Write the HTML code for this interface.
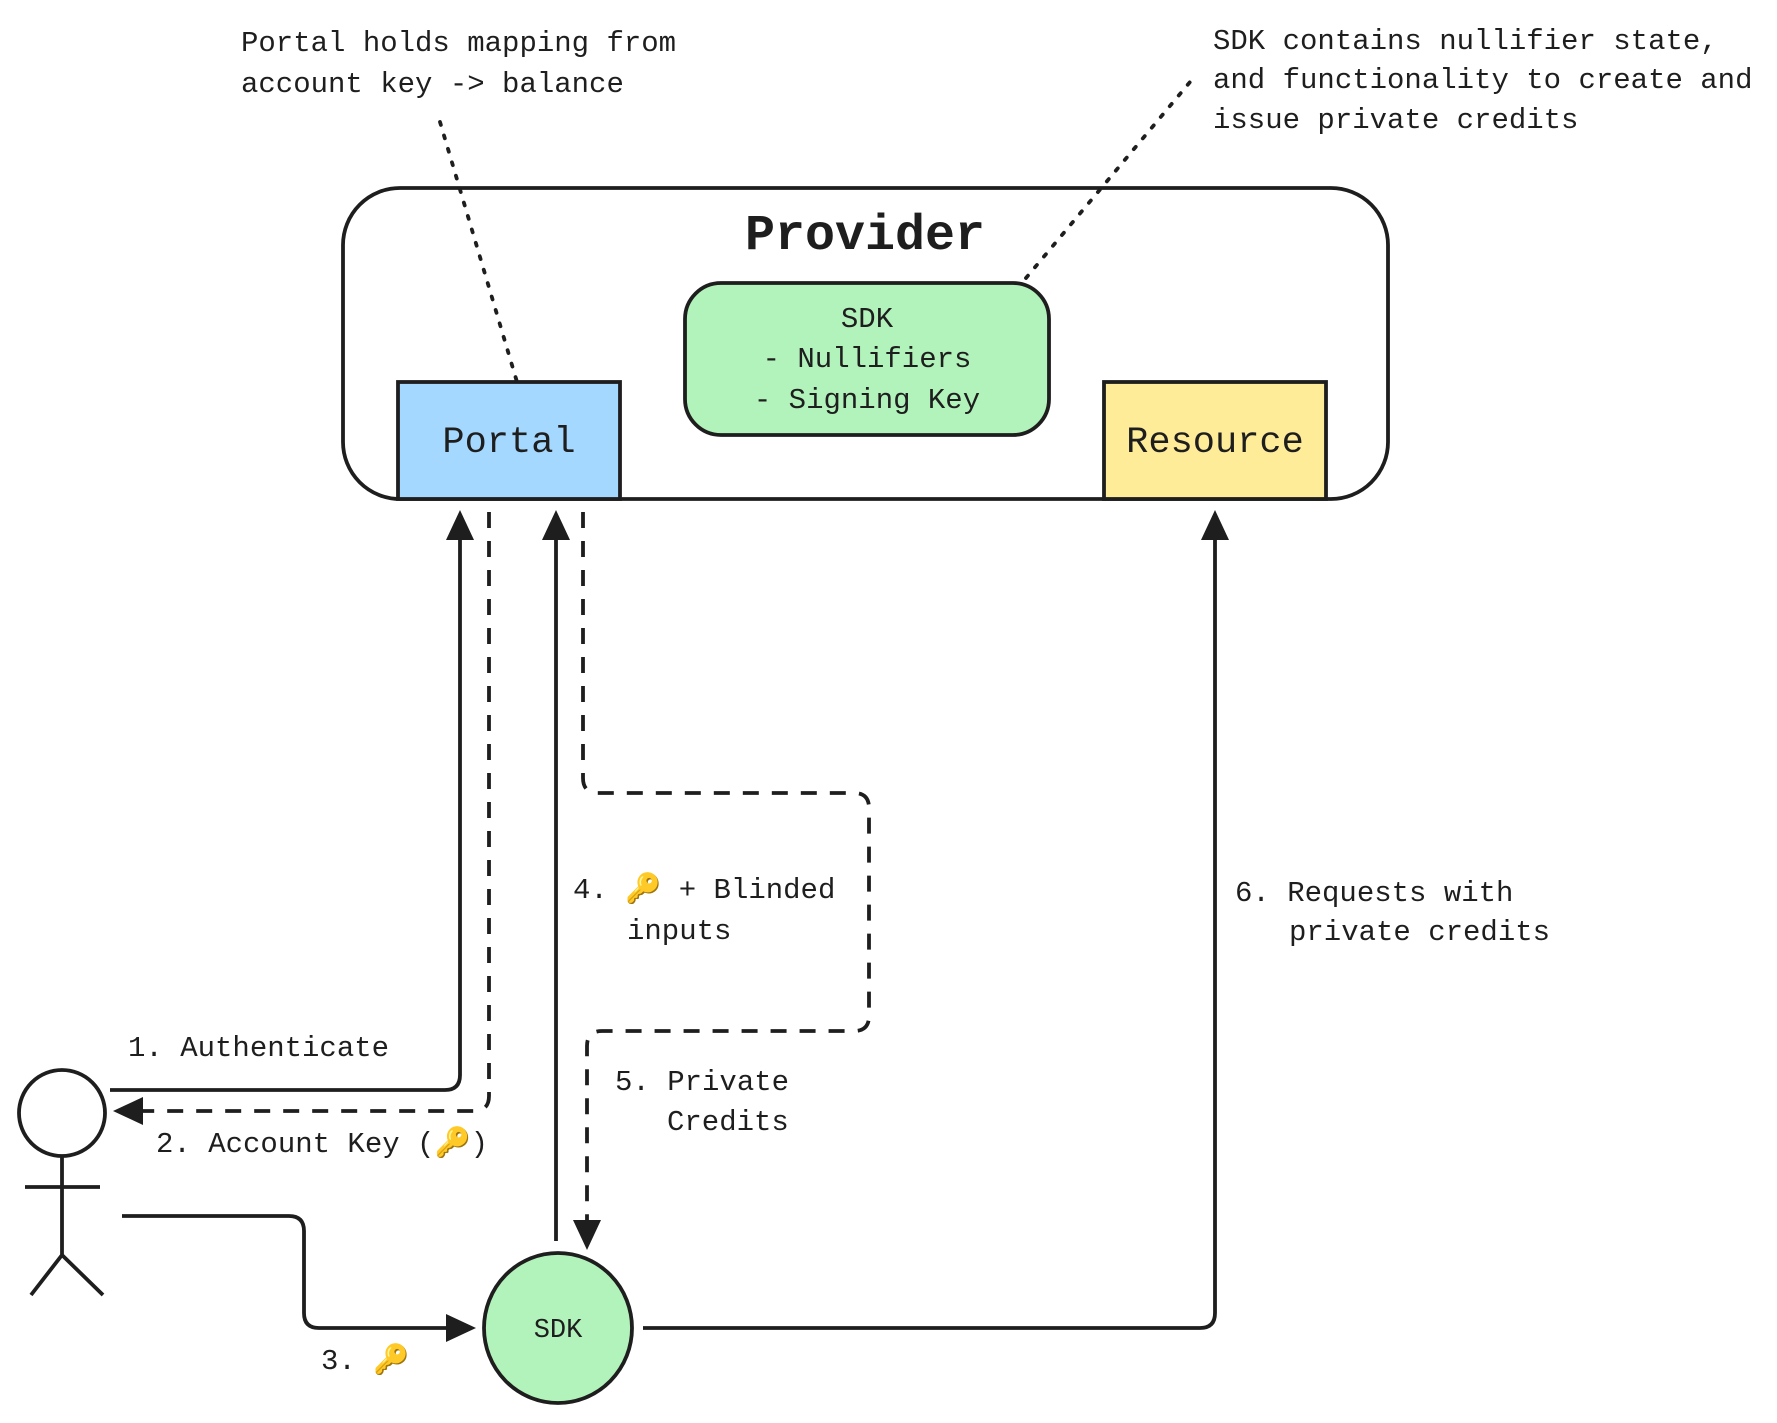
<!DOCTYPE html>
<html><head><meta charset="utf-8"><style>
html,body{margin:0;padding:0;background:#fff;}
svg{display:block;}
text{font-family:"Liberation Mono","DejaVu Sans Mono",monospace;fill:#1e1e1e;}
</style></head><body>
<svg width="1777" height="1423" viewBox="0 0 1777 1423" xmlns="http://www.w3.org/2000/svg">
<g stroke="#1e1e1e" stroke-width="3.8" fill="none">
<rect x="343" y="188" width="1045" height="311" rx="57" fill="#fff"/>
<rect x="398" y="382" width="222" height="117" fill="#a5d8ff"/>
<rect x="1104" y="382" width="222" height="117" fill="#ffec99"/>
<rect x="685" y="283" width="364" height="152" rx="36" fill="#b2f2bb"/>
<path d="M440 122 L517 382" stroke-dasharray="3 11" stroke-linecap="round"/>
<path d="M1026 278 L1190 82" stroke-dasharray="3 11" stroke-linecap="round"/>
<path d="M110 1090 L445 1090 Q460 1090 460 1075 L460 540"/>
<path d="M489 512 L489 1096 Q489 1111 474 1111 L140 1111" stroke-dasharray="16 13"/>
<path d="M556 1241 L556 540"/>
<path d="M583 512 L583 778 Q583 793 598 793 L854 793 Q869 793 869 808 L869 1016 Q869 1031 854 1031 L602 1031 Q587 1031 587 1046 L587 1222" stroke-dasharray="16 13"/>
<path d="M122 1216 L289 1216 Q304 1216 304 1231 L304 1313 Q304 1328 319 1328 L448 1328"/>
<path d="M643 1328 L1200 1328 Q1215 1328 1215 1313 L1215 540"/>
<circle cx="62" cy="1113" r="43" fill="#fff"/>
<path d="M62 1156 L62 1255 M25 1187 L100 1187 M62 1255 L31 1295 M62 1255 L103 1295"/>
<ellipse cx="558" cy="1328" rx="74" ry="75" fill="#b2f2bb"/>
</g>
<g fill="#1e1e1e">
<polygon points="460,510 446,540 474,540"/>
<polygon points="556,510 542,540 570,540"/>
<polygon points="1215,510 1201,540 1229,540"/>
<polygon points="113,1111 143,1097 143,1125"/>
<polygon points="587,1250 573,1220 601,1220"/>
<polygon points="476,1328 446,1314 446,1342"/>
</g>
<text x="865" y="249" font-size="50" text-anchor="middle" font-weight="bold">Provider</text>
<text x="509" y="452" font-size="37" text-anchor="middle">Portal</text>
<text x="1215" y="452" font-size="37" text-anchor="middle">Resource</text>
<text font-size="29" text-anchor="middle"><tspan x="867" y="327">SDK</tspan><tspan x="867" y="367">- Nullifiers</tspan><tspan x="867" y="408">- Signing Key</tspan></text>
<text x="558" y="1337" font-size="27" text-anchor="middle" font-family="Liberation Sans, sans-serif">SDK</text>
<text font-size="29"><tspan x="241" y="51">Portal holds mapping from</tspan><tspan x="241" y="92">account key -&gt; balance</tspan></text>
<text font-size="29"><tspan x="1213" y="49">SDK contains nullifier state,</tspan><tspan x="1213" y="88">and functionality to create and</tspan><tspan x="1213" y="128">issue private credits</tspan></text>
<text x="128" y="1056" font-size="29">1. Authenticate</text>
<text x="156" y="1152" font-size="29">2. Account Key (<tspan fill="#d4a017">🔑</tspan>)</text>
<text x="321" y="1369" font-size="29">3. <tspan fill="#d4a017">🔑</tspan></text>
<text font-size="29"><tspan x="573" y="898">4. <tspan fill="#d4a017">🔑</tspan> + Blinded</tspan><tspan x="627" y="939">inputs</tspan></text>
<text font-size="29"><tspan x="615" y="1090">5. Private</tspan><tspan x="667" y="1130">Credits</tspan></text>
<text font-size="29"><tspan x="1235" y="901">6. Requests with</tspan><tspan x="1289" y="940">private credits</tspan></text>
</svg>
</body></html>
